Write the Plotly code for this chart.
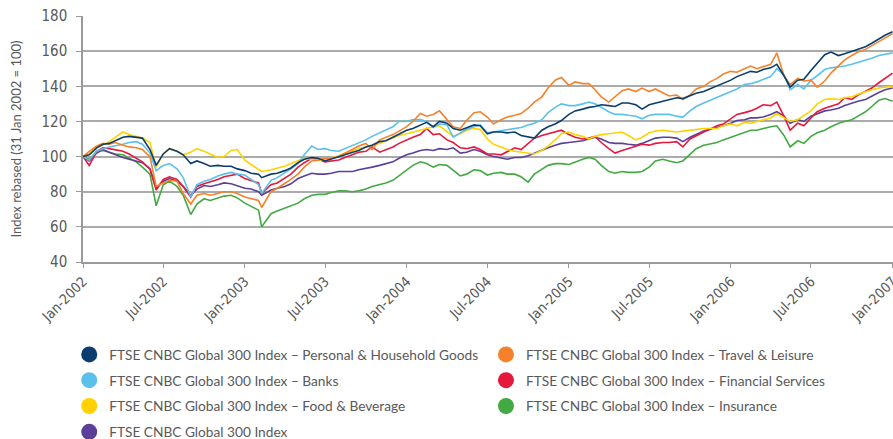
import plotly.graph_objects as go

# ---- dates: 1st and 15th of each month (one mid-Feb-2003 reading taken at the trough) ----
dates = []
for yr in range(2002, 2007):
    for mo in range(1, 13):
        for dd in (1, 15):
            if yr == 2003 and mo == 2 and dd == 15:
                dd = 8
            dates.append(f"{yr}-{mo:02d}-{dd:02d}")
dates.append("2007-01-01")

# ---- series values (index, 31 Jan 2002 = 100) ----
personal_household = [
    100, 101, 105, 107, 107.5, 109, 111, 111.5, 111, 110.5, 104, 95, 101.5, 104.5, 103, 101, 96, 97.5, 96, 94.5, 95, 94.5, 94.5, 93,
    92, 90.5, 90, 88, 90, 90.5, 92, 93.5, 96.5, 98.5, 99.5, 99, 97.5, 98.5, 100, 101, 102.5, 103.5, 105.5, 106.5, 108.5, 109, 111, 113,
    115, 116, 118, 119.5, 117, 120, 119, 116, 115, 116.5, 118, 117.5, 113, 114, 114, 113.5, 114, 112, 111, 110.5, 115, 117, 118.5, 120.5,
    124, 126, 127, 128, 128.5, 129.5, 129, 128.5, 130.5, 130.5, 129.5, 127, 129.5, 130.5, 131.5, 132.5, 133.5, 133, 134.5, 136, 137, 138.5, 140, 141.5,
    143.5, 145.5, 147, 148.5, 148, 149.5, 150.5, 152.5, 146, 139.5, 143.5, 144, 149, 153, 158, 159.5, 157.5, 158.5, 160, 161, 162.5, 164.5, 167, 169,
    171]
travel_leisure = [
    100, 103, 106, 107.5, 107, 108, 106.5, 105.5, 105, 104, 100, 83, 85, 86.5, 86, 79, 73, 78, 79, 78, 79, 80, 80, 79,
    77, 76, 75, 71, 80, 82, 84.5, 87, 90, 94, 97.5, 98, 99, 99, 100, 102, 104, 106, 107.5, 104, 109.5, 111, 112.5, 114.5,
    117, 120, 124.5, 123, 124, 126, 121, 117, 116, 120.5, 125, 125.5, 122.5, 118.5, 121, 122.5, 123.5, 124.5, 127.5, 131, 134, 139, 143.5, 145,
    140.5, 142.5, 141.5, 141.5, 138, 134, 131, 134, 137.5, 138.5, 137, 139, 137, 138.5, 136.5, 134.5, 135, 132.5, 135, 138.5, 140, 142.5, 144.5, 147,
    148.5, 148, 150, 151.5, 150, 151, 152.5, 159, 146, 141, 144.5, 143, 143.5, 139.5, 143, 147.5, 151.5, 155, 157.5, 159.5, 161, 163, 165.5, 167.5,
    170]
banks = [
    100, 98, 103, 104.5, 105.5, 106, 107, 108, 108.5, 107, 102, 92, 95, 96, 93, 88, 77, 84, 86, 87, 89, 90, 91, 90,
    89.5, 87, 84, 79, 86.5, 88, 90.5, 93, 96, 101, 106, 104, 104.5, 103.5, 103, 104.5, 106.5, 108, 109.5, 111.5, 113.5, 115, 117, 120,
    120, 121, 121, 120, 116.5, 118.5, 118, 111, 113.5, 115.5, 117, 118, 113.5, 114, 114.5, 115, 116, 116.5, 118, 119, 121, 125, 128, 130,
    129, 129, 130, 131, 130, 128, 125.5, 124, 124, 123.5, 123, 121.5, 123.5, 124, 124, 124, 123, 122.5, 126, 128.5, 130.5, 132, 134, 135.5,
    137, 138.5, 141, 141.5, 142.5, 144, 145.5, 150, 146.5, 138, 141, 138.5, 143.5, 146, 149.5, 150.5, 151, 151.5, 152.5, 153.5, 155, 156, 157.5, 158,
    159]
financial_services = [
    100, 95, 103, 105, 104.5, 104, 103, 101.5, 99, 97, 93, 81, 87, 88.5, 87, 83, 77, 83, 84.5, 85.5, 87, 88.5, 89.5, 90,
    87.5, 86.5, 85, 79, 84, 85, 87.5, 90, 94, 96.5, 99, 98.5, 97, 97.5, 98, 99.5, 101, 102.5, 103, 105.5, 102.5, 104, 105.5, 107.5,
    109.5, 111, 112.5, 116, 112.5, 113, 109.5, 108, 105, 104.5, 105.5, 104, 101.5, 101.5, 101, 103, 105, 104, 107.5, 110.5, 112, 113, 114, 115,
    112.5, 111, 110, 110.5, 111.5, 108, 104.5, 102, 103.5, 104.5, 106, 107, 106.5, 107.5, 108, 108, 108.5, 105.5, 110, 112, 114, 115.5, 117.5, 118.5,
    121.5, 124, 125, 126, 127.5, 129.5, 129, 131, 123, 115, 119, 117.5, 122, 125.5, 127.5, 128.5, 130, 133.5, 132.5, 135, 137, 139, 142, 144.5,
    147.5]
food_beverage = [
    100, 101.5, 105, 106.5, 108.5, 111, 114, 112.5, 111.5, 110.5, 108, 94, 101.5, 104.5, 103, 101, 102.5, 104.5, 103, 101.5, 99.5, 100, 103.5, 104,
    98, 95.5, 93, 91.5, 92.5, 93.5, 94.5, 96, 97.5, 99, 98.5, 98, 98, 99, 100.5, 102, 103.5, 104.5, 105.5, 106.5, 107.5, 109, 110.5, 112,
    113, 114, 115, 116, 117, 117.5, 114, 111.5, 113, 115, 116, 115.5, 110, 107, 105.5, 104, 103, 102.5, 102, 101.5, 103.5, 106, 109.5, 113,
    114, 112.5, 111.5, 110, 111.5, 112.5, 113, 113.5, 114, 112, 109.5, 111, 113.5, 114.5, 115, 114.5, 114, 114.5, 115, 115.5, 116, 116, 116, 117.5,
    118.5, 117.5, 119.5, 119, 120, 121, 122, 124.5, 122, 120, 121, 123.5, 126, 130, 132.5, 133, 132.5, 133.5, 134, 135.5, 137, 138, 139, 139.5,
    140]
insurance = [
    100, 98.5, 103, 103.5, 102.5, 101.5, 101, 99, 97, 94, 90, 72, 84, 86, 83, 78, 67, 73, 76, 75, 76.5, 77.5, 78, 76.5,
    73.5, 71.5, 69.5, 60, 67.5, 69, 70.5, 72, 73.5, 76, 78, 78.5, 78.5, 79.5, 80.5, 80.5, 80, 80.5, 81.5, 83, 84, 85, 86.5, 89,
    92, 95, 97, 96, 94, 95.5, 95, 92, 89, 90, 92.5, 92, 89.5, 90.5, 91, 90, 90, 88.5, 85.5, 90, 93, 95, 96, 96,
    95.5, 97, 98.5, 99.5, 98.5, 95, 91.5, 90.5, 91.5, 91, 91, 91.5, 94, 97.5, 98.5, 97.5, 96.5, 97.5, 101.5, 104.5, 106.5, 107, 108, 109.5,
    111, 112.5, 114, 115, 115, 116, 117, 117.5, 112, 105.5, 109, 107.5, 111.5, 113.5, 115, 117, 119, 120, 121, 123, 125.5, 128.5, 132, 133,
    131.5]
global_300 = [
    100, 97.5, 102, 104, 102.5, 101, 99.5, 98.5, 97.5, 96.5, 93, 82, 86, 87.5, 86, 83, 78, 81.5, 83.5, 83, 84, 85, 84.5, 83.5,
    82, 81.5, 80, 78, 81, 82, 83, 84.5, 87.5, 89, 90.5, 90, 90, 90.5, 91.5, 91.5, 91.5, 92.5, 93.5, 94, 95, 96, 97, 99,
    101, 102, 103.5, 104, 103.5, 104.5, 104, 105, 102, 102.5, 104, 103, 101, 100, 99, 98.5, 99.5, 99.5, 100.5, 102, 103.5, 105, 106.5, 107.5,
    108, 108.5, 109, 110, 111, 110, 108, 107.5, 107.5, 107, 106.5, 107.5, 109, 110.5, 111, 111, 110.5, 108.5, 111, 112.5, 114.5, 115.5, 116.5, 117.5,
    119, 120.5, 121, 122, 122, 122.5, 124, 125.5, 123, 119, 121, 120, 123, 124.5, 126, 126.5, 127.5, 129, 130.5, 131.5, 132.5, 134.5, 136.5, 138,
    139]

names = {
    "phg": "FTSE CNBC Global 300 Index \u2013 Personal & Household Goods",
    "banks": "FTSE CNBC Global 300 Index \u2013 Banks",
    "food": "FTSE CNBC Global 300 Index \u2013 Food & Beverage",
    "glob": "FTSE CNBC Global 300 Index",
    "travel": "FTSE CNBC Global 300 Index \u2013 Travel & Leisure",
    "fin": "FTSE CNBC Global 300 Index \u2013 Financial Services",
    "ins": "FTSE CNBC Global 300 Index \u2013 Insurance",
}
values = {
    "phg": personal_household, "banks": banks, "food": food_beverage, "glob": global_300,
    "travel": travel_leisure, "fin": financial_services, "ins": insurance,
}
colors = {
    "phg": "#0b3d6e", "banks": "#5bc1ec", "food": "#ffd200", "glob": "#5b3f98",
    "travel": "#f5822a", "fin": "#e5193b", "ins": "#43a942",
}
for k, v in values.items():
    assert len(v) == len(dates), (k, len(v), len(dates))

draw_order = ["ins", "glob", "fin", "food", "banks", "travel", "phg"]
legend_col1 = ["phg", "banks", "food", "glob"]
legend_col2 = ["travel", "fin", "ins"]

fig = go.Figure()
for k in draw_order:
    fig.add_trace(go.Scatter(
        x=dates, y=values[k], mode="lines", name=names[k],
        line=dict(color=colors[k], width=1.6), showlegend=False, legendgroup=k,
    ))
for col, lg in ((legend_col1, "legend"), (legend_col2, "legend2")):
    for k in col:
        fig.add_trace(go.Scatter(
            x=[None], y=[None], mode="markers", name=names[k],
            marker=dict(color=colors[k], size=16, symbol="circle"),
            legend=lg, legendgroup=k, showlegend=True,
        ))

txt = "#595959"
legend_common = dict(
    orientation="v", xanchor="left", yanchor="top", bgcolor="rgba(0,0,0,0)",
    font=dict(family="Lato, Noto Sans, sans-serif", size=13.7, color=txt),
    tracegroupgap=5, itemclick=False, itemdoubleclick=False,
)
fig.update_layout(
    width=893, height=439,
    margin=dict(l=83, r=0, t=16, b=177, autoexpand=False),
    paper_bgcolor="white", plot_bgcolor="white",
    legend=dict(x=-0.017, y=-0.313, **legend_common),
    legend2=dict(x=0.4975, y=-0.313, **legend_common),
    xaxis=dict(
        type="date", range=["2002-01-01", "2007-01-02"],
        tick0="2002-01-01", dtick="M6", tickformat="%b-%Y", tickangle=-45,
        showgrid=False, showline=True, linecolor="#9a9a9a", linewidth=1.5,
        ticks="outside", ticklen=4, tickcolor="#9a9a9a",
        tickfont=dict(family="Liberation Sans Narrow, DejaVu Sans Condensed, sans-serif", size=14, color=txt),
        ticklabeloverflow="allow",
        automargin=False,
    ),
    yaxis=dict(
        range=[40, 180], dtick=20, tick0=40,
        showgrid=True, gridcolor="#ababab", gridwidth=1.5,
        showline=True, linecolor="#9a9a9a", linewidth=1.5,
        ticks="outside", ticklen=5, tickcolor="#9a9a9a", ticklabelstandoff=6,
        tickfont=dict(family="Liberation Sans Narrow, DejaVu Sans Condensed, sans-serif", size=15, color=txt),
        zeroline=False, automargin=False,
        title=dict(text="Index rebased (31 Jan 2002 = 100)",
                   font=dict(family="Lato, Noto Sans, sans-serif", size=13, color=txt), standoff=17),
    ),
    showlegend=True,
)
fig.write_html(
    "out.html",
    config={"displayModeBar": False},
    post_script="document.body.style.margin='0';document.body.style.overflow='hidden';",
)
